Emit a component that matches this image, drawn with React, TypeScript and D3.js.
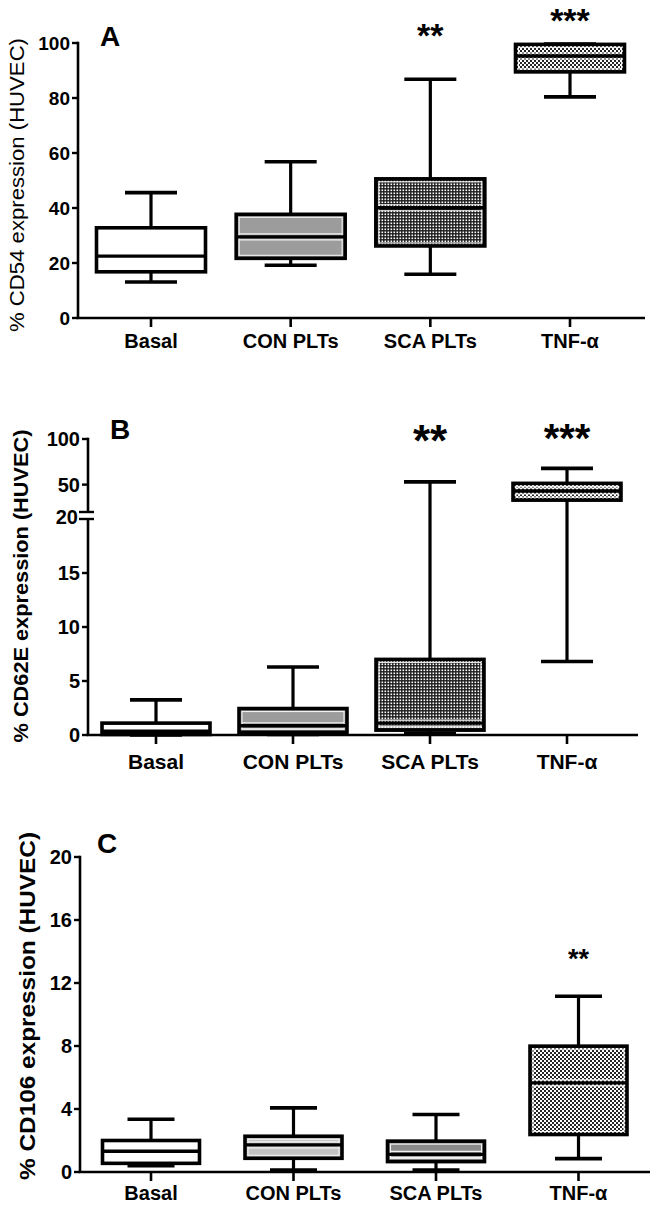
import React from "react";
import * as d3 from "d3";

// ---------------- DATA ----------------
const categories = ["Basal", "CON PLTs", "SCA PLTs", "TNF-α"];

// Panel A: % CD54 expression
const cd54Min = [13.1, 19.2, 15.9, 80.4];
const cd54Q1 = [16.8, 21.7, 26.2, 89.5];
const cd54Median = [22.5, 29.5, 40.1, 95.3];
const cd54Q3 = [32.8, 37.7, 50.6, 99.5];
const cd54Max = [45.6, 56.8, 86.8, 99.6];
const cd54Ticks = [0, 20, 40, 60, 80, 100];
const cd54Stars = ["", "", "**", "***"];

// Panel B: % CD62E expression (broken axis 0-20 | 20-100)
const cd62eMin = [0.0, 0.05, 0.12, 6.8];
const cd62eQ1 = [0.05, 0.25, 0.45, 33];
const cd62eMedian = [0.35, 0.85, 1.1, 43];
const cd62eQ3 = [1.1, 2.45, 7.0, 51.4];
const cd62eMax = [3.25, 6.3, 53, 67.8];
const cd62eTicksLow = [0, 5, 10, 15];
const cd62eTicksHigh = [50, 100];
const cd62eBreak = 20;
const cd62eStars = ["", "", "**", "***"];

// Panel C: % CD106 expression
const cd106Min = [0.4, 0.12, 0.12, 0.85];
const cd106Q1 = [0.55, 0.87, 0.66, 2.38];
const cd106Median = [1.32, 1.72, 1.12, 5.66];
const cd106Q3 = [2.0, 2.27, 1.96, 7.99];
const cd106Max = [3.35, 4.07, 3.65, 11.16];
const cd106Ticks = [0, 4, 8, 12, 16, 20];
const cd106Stars = ["", "", "", "**"];

const FONT = "'Liberation Sans', Arial, Helvetica, sans-serif";

type Fill = "white" | "gray" | "lightgray" | "midgray" | "dots" | "checker";

function fillOf(f: Fill) {
  switch (f) {
    case "white": return "#ffffff";
    case "gray": return "#9c9c9c";
    case "lightgray": return "#c4c4c4";
    case "midgray": return "#8a8a8a";
    case "dots": return "url(#patDots)";
    case "checker": return "url(#patChecker)";
  }
}

interface PanelProps {
  letter: string;
  title: string;
  mins: number[]; q1s: number[]; meds: number[]; q3s: number[]; maxs: number[];
  stars: string[];
  fills: Fill[];
  y: (v: number) => number;
  x: d3.ScalePoint<string>;
  axisX: number; xEnd: number; boxW: number; capW: number;
  labelY: number; labelSize: number;
  tickSize: number;
  ticks: { v: number; label: string }[];
  axisSegments: [number, number][];
  breakMarks?: number[];
  breakLabel?: { y: number; label: string };
  letterPos: [number, number, number];
  titlePos: { x: number; y: number; len: number; size: number; weight: string };
  starPos: { y: number; size: number }[];
}

function Panel(p: PanelProps) {
  const y0 = p.y(0);
  return (
    <g>
      {/* whiskers */}
      {categories.map((c, i) => {
        const cx = p.x(c)!;
        return (
          <g key={"w" + i} stroke="#000" strokeWidth={3.2}>
            <line x1={cx} x2={cx} y1={p.y(p.q3s[i])} y2={p.y(p.maxs[i])} />
            <line x1={cx} x2={cx} y1={p.y(p.q1s[i])} y2={p.y(p.mins[i])} />
            <line x1={cx - p.capW / 2} x2={cx + p.capW / 2} y1={p.y(p.maxs[i])} y2={p.y(p.maxs[i])} strokeWidth={3.6} />
            <line x1={cx - p.capW / 2} x2={cx + p.capW / 2} y1={p.y(p.mins[i])} y2={p.y(p.mins[i])} strokeWidth={3.6} />
          </g>
        );
      })}
      {/* boxes */}
      {categories.map((c, i) => {
        const cx = p.x(c)!;
        const top = p.y(p.q3s[i]);
        const bot = p.y(p.q1s[i]);
        const med = p.y(p.meds[i]);
        const f = p.fills[i];
        const hasInner = f !== "white";
        const h = bot - top;
        return (
          <g key={"b" + i}>
            <rect x={cx - p.boxW / 2} y={top} width={p.boxW} height={h} fill={fillOf(f)} stroke="none" />
            {hasInner && h > 9 && (
              <rect x={cx - p.boxW / 2 + 3} y={top + 3} width={p.boxW - 6} height={h - 6}
                fill="none" stroke="#f2f2f2" strokeWidth={1.1} />
            )}
            {hasInner && (
              <>
                <line x1={cx - p.boxW / 2 + 3} x2={cx + p.boxW / 2 - 3} y1={med - 3} y2={med - 3} stroke="#f2f2f2" strokeWidth={1.1} />
                <line x1={cx - p.boxW / 2 + 3} x2={cx + p.boxW / 2 - 3} y1={med + 3} y2={med + 3} stroke="#f2f2f2" strokeWidth={1.1} />
              </>
            )}
            <line x1={cx - p.boxW / 2} x2={cx + p.boxW / 2} y1={med} y2={med} stroke="#000" strokeWidth={3.4} />
            <rect x={cx - p.boxW / 2} y={top} width={p.boxW} height={h} fill="none" stroke="#000" strokeWidth={3.6} />
          </g>
        );
      })}
      {/* axes */}
      {p.axisSegments.map((s, i) => (
        <line key={"ax" + i} x1={p.axisX} x2={p.axisX} y1={s[0]} y2={s[1]} stroke="#000" strokeWidth={2.6} />
      ))}
      <line x1={p.axisX - 1.3} x2={p.xEnd} y1={y0} y2={y0} stroke="#000" strokeWidth={2.6} />
      {p.ticks.map((t, i) => (
        <g key={"t" + i}>
          <line x1={p.axisX - 6} x2={p.axisX} y1={p.y(t.v)} y2={p.y(t.v)} stroke="#000" strokeWidth={2.4} />
          <text x={p.axisX - 8} y={p.y(t.v)} dy="0.36em" textAnchor="end" fontFamily={FONT}
            fontWeight="bold" fontSize={p.tickSize}>{t.label}</text>
        </g>
      ))}
      {p.breakMarks && p.breakMarks.map((by, i) => (
        <line key={"bm" + i} x1={p.axisX - 9} x2={p.axisX + 6} y1={by} y2={by} stroke="#000" strokeWidth={2.4} />
      ))}
      {p.breakLabel && (
        <text x={p.axisX - 10} y={p.breakLabel.y} dy="0.36em" textAnchor="end" fontFamily={FONT}
          fontWeight="bold" fontSize={p.tickSize}>{p.breakLabel.label}</text>
      )}
      {categories.map((c, i) => (
        <g key={"xc" + i}>
          <line x1={p.x(c)!} x2={p.x(c)!} y1={y0} y2={y0 + 9} stroke="#000" strokeWidth={2.6} />
          <text x={p.x(c)!} y={p.labelY} textAnchor="middle" fontFamily={FONT} fontWeight="bold"
            fontSize={p.labelSize}>{c}</text>
        </g>
      ))}
      {categories.map((c, i) => p.stars[i] ? (
        <text key={"s" + i} x={p.x(c)!} y={p.starPos[i].y + 0.44 * p.starPos[i].size} textAnchor="middle" fontFamily={FONT}
          fontWeight="bold" fontSize={p.starPos[i].size}>{p.stars[i]}</text>
      ) : null)}
      <text x={p.letterPos[0]} y={p.letterPos[1]} fontFamily={FONT} fontWeight="bold" fontSize={p.letterPos[2]}>{p.letter}</text>
      <text transform={`translate(${p.titlePos.x},${p.titlePos.y}) rotate(-90)`} textAnchor="middle"
        dominantBaseline="central" fontFamily={FONT} fontWeight={p.titlePos.weight} fontSize={p.titlePos.size}
        textLength={p.titlePos.len} lengthAdjust="spacingAndGlyphs">{p.title}</text>
    </g>
  );
}

export default function App() {
  // Panel A
  const xA = d3.scalePoint<string>().domain(categories).range([151, 570]);
  const yA = d3.scaleLinear().domain([0, 100]).range([318, 43]);
  // Panel B (broken axis)
  const xB = d3.scalePoint<string>().domain(categories).range([156, 567]);
  const yBLow = d3.scaleLinear().domain([0, cd62eBreak]).range([735, 519]);
  const yBHigh = d3.scaleLinear().domain([cd62eBreak, 100]).range([512, 439]);
  const yB = (v: number) => (v <= cd62eBreak ? yBLow(v) : yBHigh(v));
  // Panel C
  const xC = d3.scalePoint<string>().domain(categories).range([151, 578.5]);
  const yC = d3.scaleLinear().domain([0, 20]).range([1172, 857]);

  return (
    <svg width={662} height={1212} style={{ position: "absolute", left: 0, top: 0, background: "#fff" }}>
      <defs>
        <pattern id="patDots" patternUnits="userSpaceOnUse" width={3} height={3}>
          <rect width={3} height={3} fill="#1c1c1c" />
          <rect x={0.5} y={0.5} width={1.6} height={1.6} fill="#ffffff" />
        </pattern>
        <pattern id="patChecker" patternUnits="userSpaceOnUse" width={4} height={4}>
          <rect width={4} height={4} fill="#262626" />
          <rect x={0} y={0} width={2} height={2} fill="#ffffff" />
          <rect x={2} y={2} width={2} height={2} fill="#ffffff" />
        </pattern>
      </defs>
      <rect width={662} height={1212} fill="#fff" />
      <Panel
        letter="A" title="%  CD54 expression (HUVEC)"
        mins={cd54Min} q1s={cd54Q1} meds={cd54Median} q3s={cd54Q3} maxs={cd54Max}
        stars={cd54Stars} fills={["white", "gray", "dots", "checker"]}
        y={yA} x={xA} axisX={78} xEnd={645} boxW={109} capW={52}
        labelY={348} labelSize={20} tickSize={19}
        ticks={cd54Ticks.map((v) => ({ v, label: String(v) }))}
        axisSegments={[[yA(100) - 1.3, yA(0)]]}
        letterPos={[100, 46, 28]}
        titlePos={{ x: 17, y: 185, len: 294, size: 20, weight: "normal" }}
        starPos={[{ y: 0, size: 0 }, { y: 0, size: 0 }, { y: 32, size: 34 }, { y: 17, size: 34 }]}
      />
      <Panel
        letter="B" title="% CD62E expression (HUVEC)"
        mins={cd62eMin} q1s={cd62eQ1} meds={cd62eMedian} q3s={cd62eQ3} maxs={cd62eMax}
        stars={cd62eStars} fills={["white", "gray", "dots", "checker"]}
        y={yB} x={xB} axisX={88} xEnd={638} boxW={108} capW={52}
        labelY={769} labelSize={21} tickSize={20}
        ticks={[...cd62eTicksLow, ...cd62eTicksHigh].map((v) => ({ v, label: String(v) }))}
        axisSegments={[[yBHigh(100) - 1.3, yBHigh(cd62eBreak)], [yBLow(cd62eBreak), yBLow(0)]]}
        breakMarks={[yBHigh(cd62eBreak), yBLow(cd62eBreak)]}
        breakLabel={{ y: (yBHigh(cd62eBreak) + yBLow(cd62eBreak)) / 2 + 1, label: String(cd62eBreak) }}
        letterPos={[110, 439, 28]}
        titlePos={{ x: 21, y: 586, len: 313, size: 20, weight: "bold" }}
        starPos={[{ y: 0, size: 0 }, { y: 0, size: 0 }, { y: 437, size: 44 }, { y: 434, size: 40 }]}
      />
      <Panel
        letter="C" title="% CD106 expression (HUVEC)"
        mins={cd106Min} q1s={cd106Q1} meds={cd106Median} q3s={cd106Q3} maxs={cd106Max}
        stars={cd106Stars} fills={["white", "lightgray", "midgray", "checker"]}
        y={yC} x={xC} axisX={80} xEnd={650} boxW={97} capW={47}
        labelY={1200} labelSize={20} tickSize={20}
        ticks={cd106Ticks.map((v) => ({ v, label: String(v) }))}
        axisSegments={[[yC(20) - 1.3, yC(0)]]}
        letterPos={[97, 853, 28]}
        titlePos={{ x: 27, y: 1006, len: 348, size: 22, weight: "bold" }}
        starPos={[{ y: 0, size: 0 }, { y: 0, size: 0 }, { y: 0, size: 0 }, { y: 956, size: 27 }]}
      />
    </svg>
  );
}
